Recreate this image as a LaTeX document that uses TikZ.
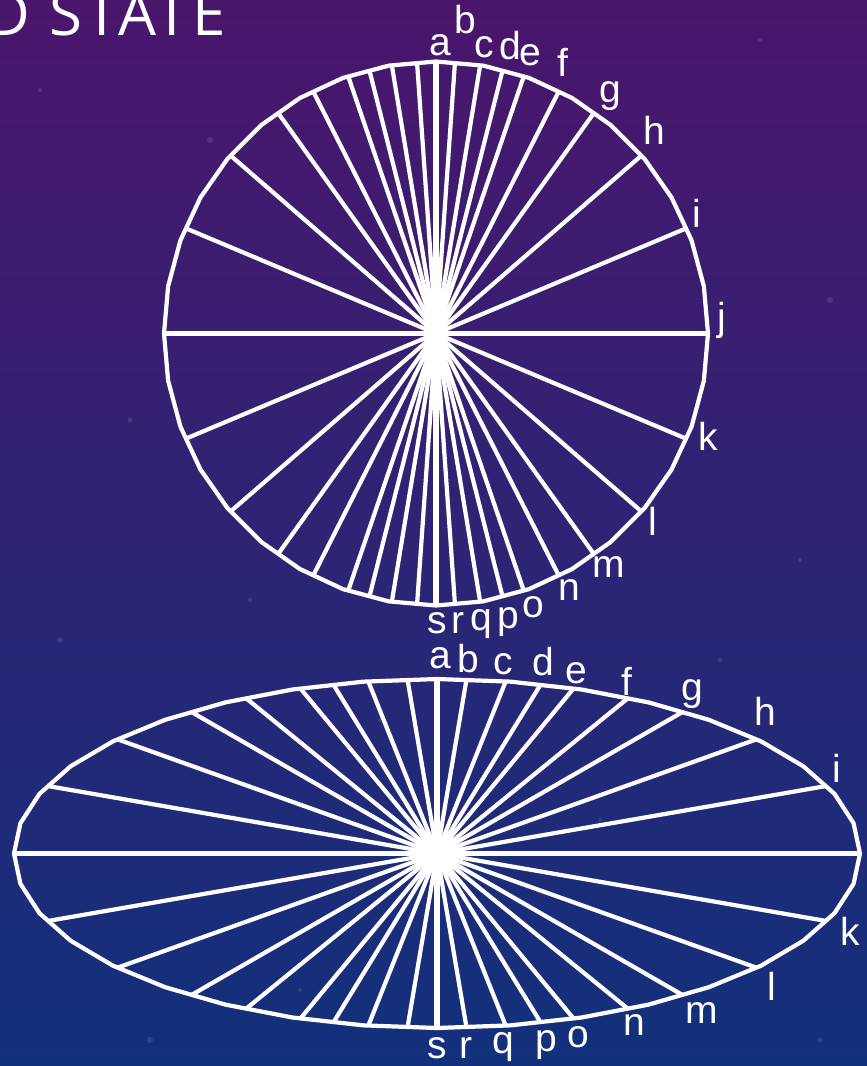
\documentclass[tikz,border=0pt]{standalone}
\usepackage{fontspec}
\setmainfont{Liberation Sans}
\newfontfamily\titlefont[LetterSpace=6]{Open Sans}
\definecolor{bgtop}{HTML}{4A166C}
\definecolor{bgmid}{HTML}{2B1F70}
\definecolor{bgbot}{HTML}{12317C}
\begin{document}
\begin{tikzpicture}[x=1pt,y=-1pt,
  rim/.style={white, line width=4.2pt, line join=round},
  spoke/.style={white, line width=4.2pt},
  mainspoke/.style={white, line width=5.5pt},
  lbl/.style={white, font=\fontsize{39}{39}\selectfont, anchor=base, inner sep=0pt},
  star/.style={white, opacity=0.10}]
\useasboundingbox (0,0) rectangle (867,1066);
\clip (0,0) rectangle (867,1066);
\shade[top color=bgtop, middle color=bgmid, bottom color=bgbot] (0,0) rectangle (867,1066);
% faint stars
\foreach \sx/\sy/\sr in {40/90/2, 210/140/3, 760/40/2.5, 830/300/3, 130/420/2.5, 800/560/2, 60/640/3, 250/600/2, 720/660/2.5, 300/990/2, 150/1040/3, 820/1040/2.5, 600/820/2, 380/720/2}
  \fill[star] (\sx,\sy) circle (\sr);
% title
\node[white, font=\titlefont\fontsize{60}{60}\selectfont, anchor=base west, inner sep=0pt] (title) at (-14,35) {D STATE};
% ---- top wheel ----
\foreach \p in {4.0, 9.35, 14.2, 18.85, 26.9, 35.6, 49.1, 67.2} {
  \draw[spoke] ({436+272*sin(\p)},{333.5-272*cos(\p)}) -- ({436-272*sin(\p)},{333.5+272*cos(\p)});
  \draw[spoke] ({436-272*sin(\p)},{333.5-272*cos(\p)}) -- ({436+272*sin(\p)},{333.5+272*cos(\p)});
}
\draw[mainspoke] (436,61.5) -- (436,605.5);
\draw[mainspoke] (164,333.5) -- (708,333.5);
\draw[rim] plot[samples=37, domain=0:360] ({436+272*cos(\x)},{333.5+272*sin(\x)}) -- cycle;
% ---- bottom (ellipse) wheel ----
\foreach \p in {4.0, 9.35, 14.2, 18.85, 26.9, 35.6, 49.1, 67.2} {
  \draw[spoke] ({437+423*sin(\p)},{853.5-174.5*cos(\p)}) -- ({437-423*sin(\p)},{853.5+174.5*cos(\p)});
  \draw[spoke] ({437-423*sin(\p)},{853.5-174.5*cos(\p)}) -- ({437+423*sin(\p)},{853.5+174.5*cos(\p)});
}
\draw[mainspoke] (437,679) -- (437,1028);
\draw[mainspoke] (14,853.5) -- (860,853.5);
\draw[rim] plot[samples=37, domain=0:360] ({437+423*cos(\x)},{853.5+174.5*sin(\x)}) -- cycle;
% ---- labels, top wheel ----
\node[lbl] (ta) at (440,55) {a};
\node[lbl] (tb) at (465,33) {b};
\node[lbl] (tc) at (484,57) {c};
\node[lbl] (td) at (510,59) {d};
\node[lbl] (te) at (530,65) {e};
\node[lbl] (tf) at (563,76) {f};
\node[lbl] (tg) at (610,102) {g};
\node[lbl] (th) at (654,144) {h};
\node[lbl] (ti) at (697,227) {i};
\node[lbl] (tj) at (722,330) {j};
\node[lbl] (tk) at (708,450) {k};
\node[lbl] (tl) at (653,535) {l};
\node[lbl] (tm) at (609,577) {m};
\node[lbl] (tn) at (569,600) {n};
\node[lbl] (to) at (533,617) {o};
\node[lbl] (tp) at (508,628) {p};
\node[lbl] (tq) at (481,630) {q};
\node[lbl] (tr) at (458,633) {r};
\node[lbl] (ts) at (437,633) {s};
% ---- labels, bottom wheel ----
\node[lbl] (ea) at (440,668) {a};
\node[lbl] (eb) at (468,672) {b};
\node[lbl] (ec) at (503,674) {c};
\node[lbl] (ed) at (543,675) {d};
\node[lbl] (ee) at (576,683) {e};
\node[lbl] (ef) at (627,695) {f};
\node[lbl] (eg) at (692,700) {g};
\node[lbl] (eh) at (765,725) {h};
\node[lbl] (ei) at (837,782) {i};
\node[lbl] (ek) at (850,945) {k};
\node[lbl] (el) at (772,1000) {l};
\node[lbl] (em) at (702,1023) {m};
\node[lbl] (en) at (634,1035) {n};
\node[lbl] (eo) at (578,1047) {o};
\node[lbl] (ep) at (546,1051) {p};
\node[lbl] (eq) at (503,1053) {q};
\node[lbl] (er) at (466,1058) {r};
\node[lbl] (es) at (437,1058) {s};
\end{tikzpicture}
\end{document}
